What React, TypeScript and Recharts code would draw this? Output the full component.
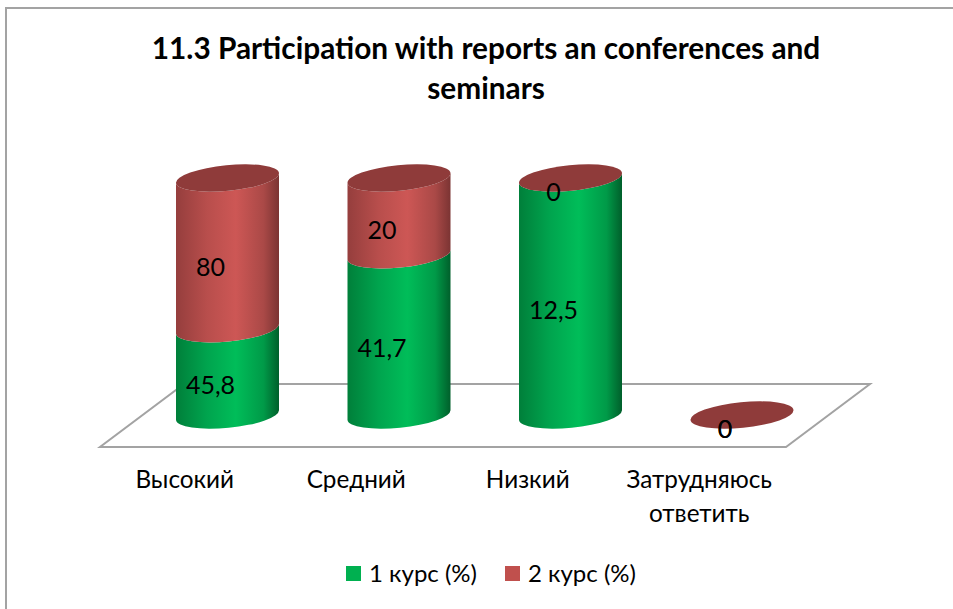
import { Bar, BarChart, Customized, LabelList, Legend, XAxis, YAxis } from "recharts";

const categories = ["Высокий", "Средний", "Низкий", "Затрудняюсь ответить"];
const course1 = [45.8, 41.7, 12.5, 0];
const course2 = [80, 20, 0, 0];

const chartData = categories.map((name, i) => ({ name, course1: course1[i], course2: course2[i] }));

const FONT = "Lato, 'Open Sans', sans-serif";
const CHART_W = 953;
const CHART_H = 609;
const margin = { top: 178, right: 125, bottom: 94, left: 142 };
const AXIS_HEIGHT = 100;
const TILT = 5.5;
const RY = 12.8;

// the 3d look moves labels off the bar centre
const LABEL_DX = -17;
const LABEL_DY = 12.5;

function Cylinder(props: any) {
  const { x, y, width, height, gradient, cap } = props;
  const rad = (TILT * Math.PI) / 180;
  const rx = width / 2 / Math.cos(rad);
  const dy = (width / 2) * Math.tan(rad);
  const right = x + width;
  const bottom = y + height;
  const side = `M${x},${bottom + dy} A${rx},${RY} ${-TILT} 0 0 ${right},${bottom - dy} L${right},${y - dy} A${rx},${RY} ${-TILT} 0 1 ${x},${y + dy} Z`;
  return (
    <g>
      {height > 0 && <path d={side} fill={`url(#${gradient})`} />}
      {cap && <ellipse cx={x + width / 2} cy={y} rx={rx} ry={RY} fill={cap} transform={`rotate(${-TILT} ${x + width / 2} ${y})`} />}
    </g>
  );
}

function Floor() {
  const baseY = CHART_H - margin.bottom - AXIS_HEIGHT;
  const l = margin.left;
  const r = CHART_W - margin.right;
  const pts = [
    [l - 42, baseY + 32],
    [r - 42, baseY + 32],
    [r + 42, baseY - 31],
    [l + 42, baseY - 31],
  ];
  return <polygon points={pts.map((p) => p.join(",")).join(" ")} fill="none" stroke="#a3a3a3" strokeWidth={2} />;
}

function CategoryTick({ x, payload }: any) {
  const words = payload.value.split(" ");
  return (
    <text textAnchor="middle" fontFamily={FONT} fontSize={24.3} fill="#000">
      {words.map((w: string, i: number) => (
        <tspan key={w} x={x - 43} y={488 + i * 34}>
          {w}
        </tspan>
      ))}
    </text>
  );
}

function ValueLabel({ x, y, width, height, value }: any) {
  return (
    <text
      x={x + width / 2 + LABEL_DX}
      y={y + height / 2 + LABEL_DY}
      textAnchor="middle"
      dominantBaseline="central"
      fontFamily={FONT}
      fontSize={25}
      fill="#000"
    >
      {String(value).replace(".", ",")}
    </text>
  );
}

function LegendRow({ payload }: any) {
  return (
    <div style={{ display: "flex", justifyContent: "center", fontFamily: FONT, fontSize: 24, lineHeight: "30px", color: "#000", marginLeft: 29 }}>
      {payload.map((item: any, i: number) => (
        <div key={item.value} style={{ display: "flex", alignItems: "center", marginLeft: i ? 28 : 0 }}>
          <span style={{ width: 15, height: 15, background: item.color, marginRight: 8 }} />
          {item.value}
        </div>
      ))}
    </div>
  );
}

export default function App() {
  return (
    <div style={{ position: "absolute", left: 0, top: 0, width: CHART_W, height: CHART_H, background: "#fff", overflow: "hidden" }}>
      <div
        style={{
          position: "absolute",
          left: 5,
          top: 7,
          width: 960,
          height: 620,
          borderLeft: "2px solid #a3a3a3",
          borderTop: "2px solid #a3a3a3",
        }}
      />
      <div
        style={{
          position: "absolute",
          left: 136,
          top: 28,
          width: 700,
          textAlign: "center",
          fontFamily: FONT,
          fontWeight: 700,
          fontSize: 29.8,
          lineHeight: "40px",
          color: "#000",
        }}
      >
        11.3 Participation with reports an conferences and seminars
      </div>
      <div style={{ position: "absolute", left: 0, top: 0 }}>
        <BarChart width={CHART_W} height={CHART_H} data={chartData} margin={margin} stackOffset="expand" barSize={103}>
          <defs>
            <linearGradient id="greenCyl" x1="0" y1="0" x2="1" y2="0">
              <stop offset="0" stopColor="#007f3a" />
              <stop offset="0.3" stopColor="#00a44e" />
              <stop offset="0.58" stopColor="#00bd59" />
              <stop offset="0.85" stopColor="#009a48" />
              <stop offset="1" stopColor="#005f2b" />
            </linearGradient>
            <linearGradient id="redCyl" x1="0" y1="0" x2="1" y2="0">
              <stop offset="0" stopColor="#953e3d" />
              <stop offset="0.3" stopColor="#b84e4c" />
              <stop offset="0.58" stopColor="#cd5755" />
              <stop offset="0.85" stopColor="#aa4947" />
              <stop offset="1" stopColor="#7b3433" />
            </linearGradient>
          </defs>
          <Customized component={Floor} />
          <XAxis dataKey="name" axisLine={false} tickLine={false} height={AXIS_HEIGHT} interval={0} tick={<CategoryTick />} />
          <YAxis hide domain={[0, 1]} />
          <Legend
            layout="horizontal"
            verticalAlign="middle"
            align="center"
            content={<LegendRow />}
            wrapperStyle={{ top: 558, left: 0, width: CHART_W }}
          />
          <Bar
            dataKey="course1"
            name="1 курс (%)"
            stackId="a"
            fill="#00b050"
            isAnimationActive={false}
            shape={<Cylinder gradient="greenCyl" />}
          >
            <LabelList dataKey="course1" content={<ValueLabel />} />
          </Bar>
          <Bar
            dataKey="course2"
            name="2 курс (%)"
            stackId="a"
            fill="#c0504d"
            isAnimationActive={false}
            shape={<Cylinder gradient="redCyl" cap="#8f3b3a" />}
          >
            <LabelList dataKey="course2" content={<ValueLabel />} />
          </Bar>
        </BarChart>
      </div>
    </div>
  );
}
